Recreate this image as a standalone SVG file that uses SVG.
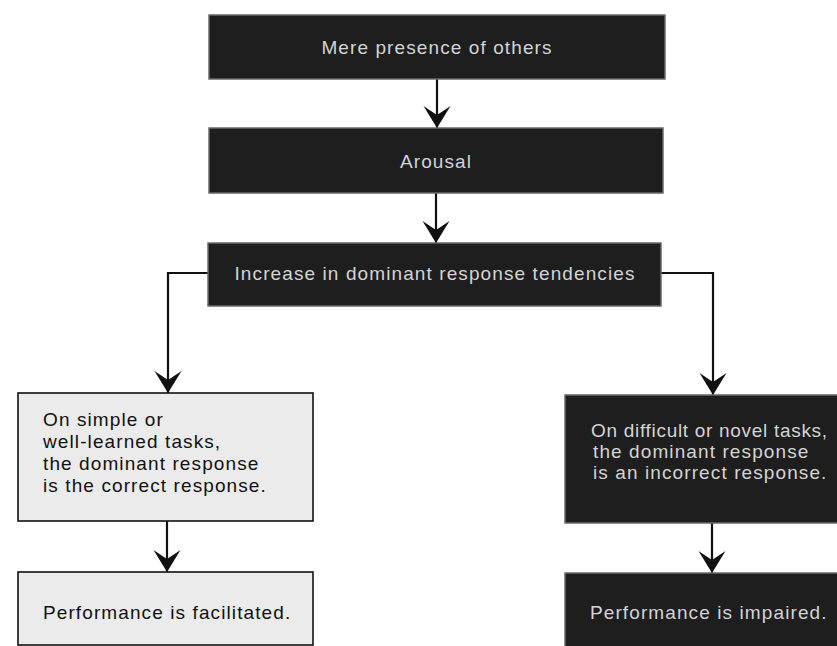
<svg xmlns="http://www.w3.org/2000/svg" width="837" height="646" viewBox="0 0 837 646">
<style>
.dark{fill:#1e1e1e;stroke:#6a6a6a;stroke-width:1.5}
.light{fill:#ebebeb;stroke:#111;stroke-width:1.6}
.tw{font-family:"Liberation Sans",Arial,Helvetica,sans-serif;font-size:19px;letter-spacing:1.1px;fill:#d4d4d4}
.tb{font-family:"Liberation Sans",Arial,Helvetica,sans-serif;font-size:19px;letter-spacing:1.1px;fill:#111}
.c{text-anchor:middle}
.conn{fill:none;stroke:#111;stroke-width:2.2;marker-end:url(#ah)}
</style>
<defs>
<marker id="ah" markerUnits="userSpaceOnUse" markerWidth="24" markerHeight="28" refX="22" refY="14" orient="auto" overflow="visible">
<path d="M22,14 L0,0.5 L9,14 L0,27.5 Z" fill="#111"/>
</marker>
</defs>
<rect width="837" height="646" fill="#fff"/>
<g id="connectors">
<line class="conn" x1="437" y1="79" x2="437" y2="128"/>
<line class="conn" x1="436" y1="193" x2="436" y2="243"/>
<path class="conn" d="M208,273 H168 V393"/>
<line class="conn" x1="167" y1="521" x2="167" y2="572"/>
<path class="conn" d="M661,273 H713 V395"/>
<line class="conn" x1="712" y1="523" x2="712" y2="573"/>
</g>
<g id="node-presence">
<rect class="dark" x="209" y="15" width="456" height="64"/>
<text class="tw c" x="437" y="54">Mere presence of others</text>
</g>
<g id="node-arousal">
<rect class="dark" x="209" y="128" width="454" height="65"/>
<text class="tw c" x="436" y="168">Arousal</text>
</g>
<g id="node-increase">
<rect class="dark" x="208" y="243" width="453" height="63"/>
<text class="tw c" x="435" y="280">Increase in dominant response tendencies</text>
</g>
<g id="node-simple">
<rect class="light" x="18" y="393" width="295" height="128"/>
<text class="tb" x="43" y="426">On simple or</text>
<text class="tb" x="43" y="448">well-learned tasks,</text>
<text class="tb" x="43" y="470">the dominant response</text>
<text class="tb" x="43" y="492">is the correct response.</text>
</g>
<g id="node-facilitated">
<rect class="light" x="18" y="572" width="295" height="73"/>
<text class="tb" x="43" y="619">Performance is facilitated.</text>
</g>
<g id="node-difficult">
<rect class="dark" x="565" y="395" width="290" height="128"/>
<text class="tw" x="591" y="437" style="letter-spacing:0.7px">On difficult or novel tasks,</text>
<text class="tw" x="593" y="458">the dominant response</text>
<text class="tw" x="593" y="479">is an incorrect response.</text>
</g>
<g id="node-impaired">
<rect class="dark" x="565" y="573" width="290" height="90"/>
<text class="tw" x="590" y="619">Performance is impaired.</text>
</g>
</svg>
